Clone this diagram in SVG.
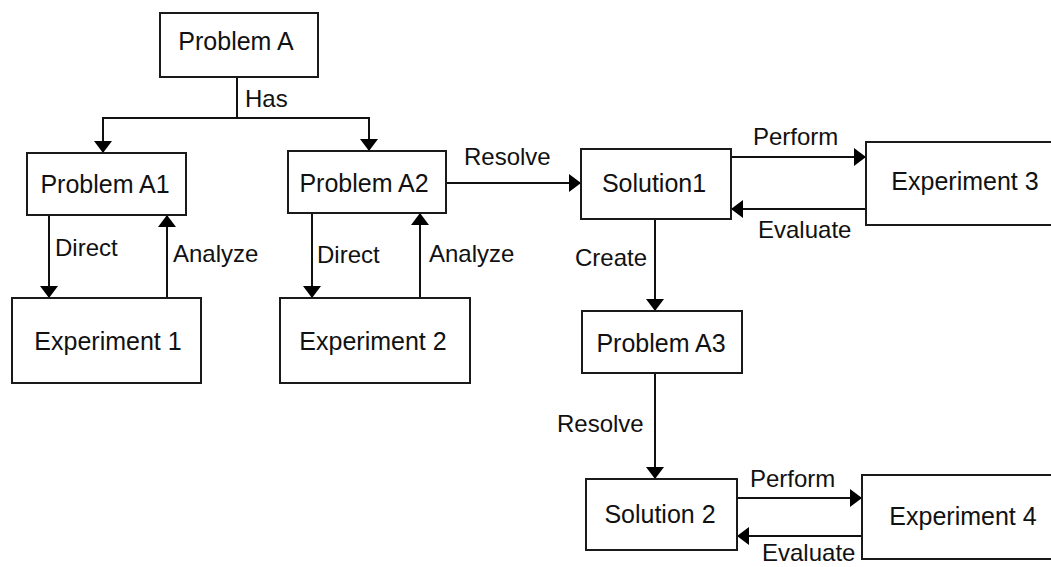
<svg xmlns="http://www.w3.org/2000/svg" width="1051" height="567" viewBox="0 0 1051 567">
<style>
.box{fill:#fff;stroke:#1a1a1a;stroke-width:2}
.nt{font-family:"Liberation Sans",Arial,sans-serif;font-size:25px;fill:#111;text-anchor:middle}
.lb{font-family:"Liberation Sans",Arial,sans-serif;font-size:24px;fill:#111}
.cn{fill:none;stroke:#111;stroke-width:2;marker-end:url(#arr)}
</style>
<defs>
<marker id="arr" markerUnits="userSpaceOnUse" markerWidth="13" markerHeight="18" refX="12" refY="9" orient="auto" viewBox="0 0 13 18">
<path d="M0,0 L12,9 L0,18 z" fill="#000"/>
</marker>
</defs>
<rect width="1051" height="567" fill="#fff"/>
<g id="connectors">
<path class="cn" d="M237,77 V118 H103 V153"/>
<path class="cn" d="M237,118 H369 V151"/>
<path class="cn" d="M49,215 V298"/>
<path class="cn" d="M167,298 V215"/>
<path class="cn" d="M312,213 V298"/>
<path class="cn" d="M420,298 V213"/>
<path class="cn" d="M446,183 H581"/>
<path class="cn" d="M731,157 H866"/>
<path class="cn" d="M866,209 H731"/>
<path class="cn" d="M655,219 V311"/>
<path class="cn" d="M655,373 V479"/>
<path class="cn" d="M737,498 H862"/>
<path class="cn" d="M862,536 H737"/>
<text class="lb" x="245" y="107">Has</text>
<text class="lb" x="55" y="256">Direct</text>
<text class="lb" x="173" y="262">Analyze</text>
<text class="lb" x="317" y="263">Direct</text>
<text class="lb" x="429" y="262">Analyze</text>
<text class="lb" x="464" y="165">Resolve</text>
<text class="lb" x="753" y="145">Perform</text>
<text class="lb" x="758" y="238">Evaluate</text>
<text class="lb" x="575" y="266">Create</text>
<text class="lb" x="557" y="432">Resolve</text>
<text class="lb" x="750" y="487">Perform</text>
<text class="lb" x="762" y="561">Evaluate</text>
</g>
<g id="problemA"><rect class="box" x="160" y="13" width="158" height="64"/><text class="nt" x="236" y="50">Problem A</text></g>
<g id="problemA1"><rect class="box" x="27" y="153" width="159" height="62"/><text class="nt" x="105" y="193">Problem A1</text></g>
<g id="problemA2"><rect class="box" x="288" y="151" width="158" height="62"/><text class="nt" x="364" y="192">Problem A2</text></g>
<g id="experiment1"><rect class="box" x="12" y="298" width="189" height="85"/><text class="nt" x="108" y="350">Experiment 1</text></g>
<g id="experiment2"><rect class="box" x="280" y="298" width="190" height="85"/><text class="nt" x="373" y="350">Experiment 2</text></g>
<g id="solution1"><rect class="box" x="581" y="149" width="150" height="70"/><text class="nt" x="654" y="192">Solution1</text></g>
<g id="experiment3"><rect class="box" x="866" y="142" width="200" height="83"/><text class="nt" x="965" y="190">Experiment 3</text></g>
<g id="problemA3"><rect class="box" x="582" y="311" width="160" height="62"/><text class="nt" x="661" y="352">Problem A3</text></g>
<g id="solution2"><rect class="box" x="586" y="479" width="151" height="71"/><text class="nt" x="660" y="523">Solution 2</text></g>
<g id="experiment4"><rect class="box" x="862" y="475" width="200" height="84"/><text class="nt" x="963" y="525">Experiment 4</text></g>
</svg>
